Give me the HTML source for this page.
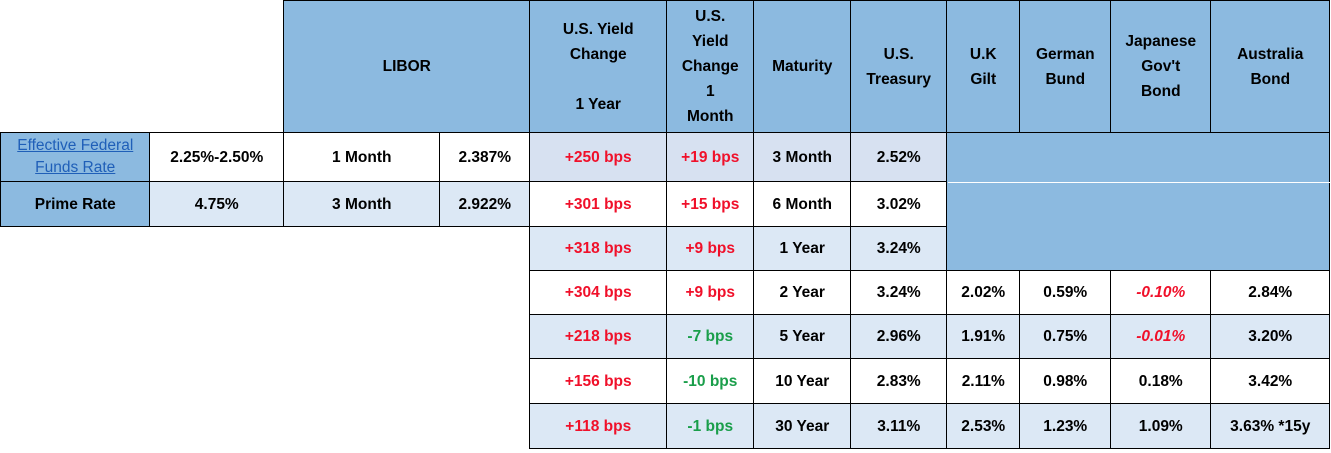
<!DOCTYPE html>
<html><head><meta charset="utf-8"><style>
body{margin:0;width:1331px;height:453px;background:#fff;position:relative;overflow:hidden;font-family:"Liberation Sans",sans-serif;font-weight:bold;font-size:15.5px;color:#000}
.c{position:absolute;box-sizing:border-box;border:1.5px solid #000;display:flex;align-items:center;justify-content:center;text-align:center;line-height:25px;margin:-0.75px 0 0 -0.75px}
.h{background:#8cbae0}
.l{background:#dce8f5}
.p{background:#d7e1f1}
.w{background:#fff}
.r{color:#f0102a}
.g{color:#1a9e4a}
.i{font-style:italic}
a{color:#1f5fb8;text-decoration:underline;font-weight:normal}
</style></head><body>
<div class="c h" style="left:284px;top:1px;width:247px;height:133px">LIBOR</div>
<div class="c h" style="left:530px;top:1px;width:138px;height:133px">U.S. Yield<br>Change<br><br>1 Year</div>
<div class="c h" style="left:667px;top:1px;width:88px;height:133px">U.S.<br>Yield<br>Change<br>1<br>Month</div>
<div class="c h" style="left:754px;top:1px;width:98px;height:133px">Maturity</div>
<div class="c h" style="left:851px;top:1px;width:97px;height:133px">U.S.<br>Treasury</div>
<div class="c h" style="left:947px;top:1px;width:74px;height:133px">U.K<br>Gilt</div>
<div class="c h" style="left:1020px;top:1px;width:92px;height:133px">German<br>Bund</div>
<div class="c h" style="left:1111px;top:1px;width:101px;height:133px">Japanese<br>Gov't<br>Bond</div>
<div class="c h" style="left:1211px;top:1px;width:120px;height:133px">Australia<br>Bond</div>

<div class="c h" style="left:1px;top:133px;width:150px;height:50px;line-height:22px"><a href="#">Effective Federal<br>Funds Rate</a></div>
<div class="c w" style="left:150px;top:133px;width:135px;height:50px">2.25%-2.50%</div>
<div class="c w" style="left:284px;top:133px;width:157px;height:50px">1 Month</div>
<div class="c w" style="left:440px;top:133px;width:91px;height:50px">2.387%</div>
<div class="c h" style="left:1px;top:182px;width:150px;height:46px">Prime Rate</div>
<div class="c l" style="left:150px;top:182px;width:135px;height:46px">4.75%</div>
<div class="c l" style="left:284px;top:182px;width:157px;height:46px">3 Month</div>
<div class="c l" style="left:440px;top:182px;width:91px;height:46px">2.922%</div>

<div class="c p r" style="left:530px;top:133px;width:138px;height:50px">+250 bps</div>
<div class="c p r" style="left:667px;top:133px;width:88px;height:50px">+19 bps</div>
<div class="c p" style="left:754px;top:133px;width:98px;height:50px">3 Month</div>
<div class="c p" style="left:851px;top:133px;width:97px;height:50px">2.52%</div>

<div class="c w r" style="left:530px;top:182px;width:138px;height:46px">+301 bps</div>
<div class="c w r" style="left:667px;top:182px;width:88px;height:46px">+15 bps</div>
<div class="c w" style="left:754px;top:182px;width:98px;height:46px">6 Month</div>
<div class="c w" style="left:851px;top:182px;width:97px;height:46px">3.02%</div>

<div class="c l r" style="left:530px;top:227px;width:138px;height:45px">+318 bps</div>
<div class="c l r" style="left:667px;top:227px;width:88px;height:45px">+9 bps</div>
<div class="c l" style="left:754px;top:227px;width:98px;height:45px">1 Year</div>
<div class="c l" style="left:851px;top:227px;width:97px;height:45px">3.24%</div>

<div class="c h" style="left:947px;top:133px;width:384px;height:139px;border-left:1.5px solid #000"></div>
<div style="position:absolute;left:948px;top:182px;width:382px;height:1px;background:#fff"></div>

<div class="c w r" style="left:530px;top:271px;width:138px;height:45px">+304 bps</div>
<div class="c w r" style="left:667px;top:271px;width:88px;height:45px">+9 bps</div>
<div class="c w" style="left:754px;top:271px;width:98px;height:45px">2 Year</div>
<div class="c w" style="left:851px;top:271px;width:97px;height:45px">3.24%</div>
<div class="c w" style="left:947px;top:271px;width:74px;height:45px">2.02%</div>
<div class="c w" style="left:1020px;top:271px;width:92px;height:45px">0.59%</div>
<div class="c w r i" style="left:1111px;top:271px;width:101px;height:45px">-0.10%</div>
<div class="c w" style="left:1211px;top:271px;width:120px;height:45px">2.84%</div>

<div class="c l r" style="left:530px;top:315px;width:138px;height:45px">+218 bps</div>
<div class="c l g" style="left:667px;top:315px;width:88px;height:45px">-7 bps</div>
<div class="c l" style="left:754px;top:315px;width:98px;height:45px">5 Year</div>
<div class="c l" style="left:851px;top:315px;width:97px;height:45px">2.96%</div>
<div class="c l" style="left:947px;top:315px;width:74px;height:45px">1.91%</div>
<div class="c l" style="left:1020px;top:315px;width:92px;height:45px">0.75%</div>
<div class="c l r i" style="left:1111px;top:315px;width:101px;height:45px">-0.01%</div>
<div class="c l" style="left:1211px;top:315px;width:120px;height:45px">3.20%</div>

<div class="c w r" style="left:530px;top:359px;width:138px;height:46px">+156 bps</div>
<div class="c w g" style="left:667px;top:359px;width:88px;height:46px">-10 bps</div>
<div class="c w" style="left:754px;top:359px;width:98px;height:46px">10 Year</div>
<div class="c w" style="left:851px;top:359px;width:97px;height:46px">2.83%</div>
<div class="c w" style="left:947px;top:359px;width:74px;height:46px">2.11%</div>
<div class="c w" style="left:1020px;top:359px;width:92px;height:46px">0.98%</div>
<div class="c w" style="left:1111px;top:359px;width:101px;height:46px">0.18%</div>
<div class="c w" style="left:1211px;top:359px;width:120px;height:46px">3.42%</div>

<div class="c l r" style="left:530px;top:404px;width:138px;height:46px">+118 bps</div>
<div class="c l g" style="left:667px;top:404px;width:88px;height:46px">-1 bps</div>
<div class="c l" style="left:754px;top:404px;width:98px;height:46px">30 Year</div>
<div class="c l" style="left:851px;top:404px;width:97px;height:46px">3.11%</div>
<div class="c l" style="left:947px;top:404px;width:74px;height:46px">2.53%</div>
<div class="c l" style="left:1020px;top:404px;width:92px;height:46px">1.23%</div>
<div class="c l" style="left:1111px;top:404px;width:101px;height:46px">1.09%</div>
<div class="c l" style="left:1211px;top:404px;width:120px;height:46px">3.63% *15y</div>
</body></html>
